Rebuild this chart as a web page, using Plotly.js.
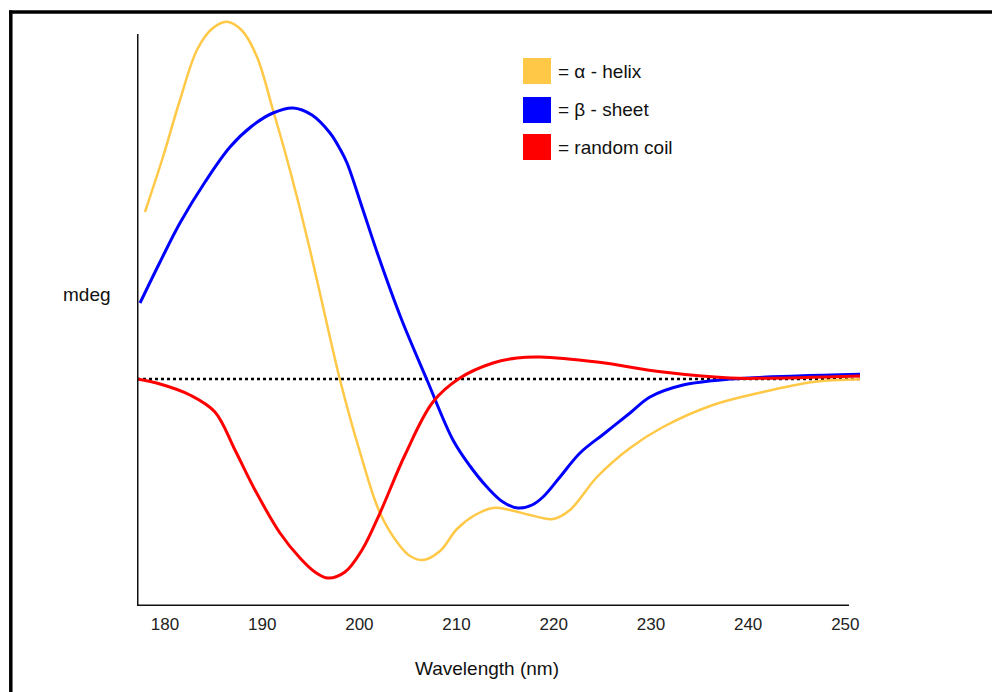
<!DOCTYPE html>
<html>
<head>
<meta charset="utf-8">
<script src="https://cdn.plot.ly/plotly-3.0.1.min.js"></script>
<style>
  html, body { margin: 0; padding: 0; background: #ffffff; }
  #chart { width: 992px; height: 692px; }
</style>
</head>
<body>
<div id="chart"></div>
<script>
// Wavelength (nm) and ellipticity (arbitrary mdeg units)
const helixNm = [177.94, 179.79, 181.54, 183.29, 184.84, 186.38, 187.92, 189.47, 191.11, 192.35, 193.58, 194.92, 196.15, 198.01, 200.06, 202.12, 204.18, 205.21, 206.55, 208.30, 210.04, 211.90, 213.75, 215.50, 217.56, 219.92, 221.67, 224.45, 227.85, 231.24, 236.38, 241.53, 246.67, 251.51];
const helixMdeg = [16.7, 22.2, 27.9, 32.9, 35.02, 35.73, 34.85, 32.2, 26.9, 22.7, 18.2, 12.9, 7.7, -0.1, -7.3, -13.4, -16.7, -17.7, -18.1, -17.2, -15.0, -13.6, -12.9, -13.1, -13.6, -14.0, -13.1, -9.8, -6.9, -4.8, -2.6, -1.3, -0.3, -0.03];

const sheetNm = [177.43, 179.49, 181.54, 184.12, 186.69, 188.95, 191.11, 193.17, 195.12, 196.98, 198.01, 198.73, 200.27, 201.92, 204.28, 206.96, 209.63, 211.38, 213.13, 214.78, 216.32, 217.76, 218.89, 220.64, 222.70, 225.27, 227.85, 229.90, 233.30, 238.13, 245.03, 251.51];
const sheetMdeg = [7.6, 11.7, 15.6, 19.7, 23.2, 25.3, 26.6, 27.1, 26.4, 24.6, 23.0, 21.6, 17.2, 12.4, 6.1, -0.1, -6.1, -8.7, -10.8, -12.3, -12.9, -12.6, -11.8, -9.8, -7.4, -5.4, -3.4, -1.8, -0.6, 0.0, 0.3, 0.47];

const coilNm = [177.12, 179.49, 182.57, 185.14, 187.20, 189.26, 191.83, 193.89, 195.43, 196.77, 198.52, 200.27, 202.12, 204.69, 207.57, 210.35, 213.75, 216.22, 218.58, 224.45, 231.24, 238.13, 241.53, 251.51];
const coilMdeg = [0.0, -0.5, -1.6, -3.3, -7.1, -11.1, -15.4, -17.9, -19.3, -19.9, -19.3, -17.1, -13.4, -7.6, -2.3, 0.1, 1.6, 2.1, 2.2, 1.7, 0.7, 0.1, 0.07, 0.3];

const tickVals = [180, 190, 200, 210, 220, 230, 240, 250];
const tickText = ["180", "190", "200", "210", "220", "230", "240", "250"];

const legendLabels = ["= \u03b1 - helix", "= \u03b2 - sheet", "= random coil"];
const seriesColors = ["#FFC846", "#0000FF", "#FF0000"];

const xRange = [177.12, 251.51];
const yRange = [-22.7, 36.4];
const axisTop = 34.5;
const axisRight = 250.38;

const FONT = "Liberation Sans, Arial, sans-serif";

const traces = [
  {x: helixNm, y: helixMdeg, mode: "lines", name: legendLabels[0],
   line: {color: seriesColors[0], width: 2.5, shape: "spline", smoothing: 1}},
  {x: sheetNm, y: sheetMdeg, mode: "lines", name: legendLabels[1],
   line: {color: seriesColors[1], width: 3, shape: "spline", smoothing: 1}},
  {x: coilNm, y: coilMdeg, mode: "lines", name: legendLabels[2],
   line: {color: seriesColors[2], width: 3, shape: "spline", smoothing: 1}}
];

// pixel helpers for paper coordinates (plot area: x 137..860, y 15..606)
const px = v => (v - 137) / 723;
const py = v => (606 - v) / 591;

const boxTops = [58, 97, 134];
const shapes = [
  // outer frame (top and left)
  {type: "line", xref: "paper", yref: "paper", x0: px(9), x1: px(995), y0: py(12), y1: py(12), line: {color: "#000", width: 3.5}},
  {type: "line", xref: "paper", yref: "paper", x0: px(10.8), x1: px(10.8), y0: py(10.5), y1: py(700), line: {color: "#000", width: 3.5}},
  // axes
  {type: "line", xref: "x", yref: "y", x0: xRange[0], x1: xRange[0], y0: yRange[0], y1: axisTop, line: {color: "#111", width: 3}},
  {type: "line", xref: "x", yref: "y", x0: xRange[0], x1: axisRight, y0: yRange[0], y1: yRange[0], line: {color: "#111", width: 3}},
  // zero baseline
  {type: "line", xref: "x", yref: "y", x0: xRange[0], x1: xRange[1], y0: 0, y1: 0, layer: "below", line: {color: "#000", width: 2.5, dash: "dot"}}
];
boxTops.forEach((t, i) => {
  shapes.push({type: "rect", xref: "paper", yref: "paper", x0: px(523), x1: px(551), y0: py(t), y1: py(t + 26),
    line: {width: 0}, fillcolor: seriesColors[i]});
});

const annotations = [
  {xref: "paper", yref: "paper", x: px(87), y: py(294), text: "mdeg", showarrow: false,
   xanchor: "center", yanchor: "middle", font: {family: FONT, size: 19, color: "#111"}},
  {xref: "paper", yref: "paper", x: px(487), y: py(668), text: "Wavelength (nm)", showarrow: false,
   xanchor: "center", yanchor: "middle", font: {family: FONT, size: 19, color: "#111"}}
];
boxTops.forEach((t, i) => {
  annotations.push({xref: "paper", yref: "paper", x: px(556), y: py(t + 13), text: legendLabels[i], showarrow: false,
    xanchor: "left", yanchor: "middle", font: {family: FONT, size: 19, color: "#111"}});
});

const layout = {
  width: 992, height: 692,
  margin: {l: 137, r: 132, t: 15, b: 86, pad: 0},
  paper_bgcolor: "#ffffff", plot_bgcolor: "#ffffff",
  showlegend: false,
  xaxis: {range: xRange, tickmode: "array", tickvals: tickVals, ticktext: tickText,
    showgrid: false, zeroline: false, showline: false, ticks: "",
    tickfont: {family: FONT, size: 17, color: "#222"}, ticklabelstandoff: 6, fixedrange: true},
  yaxis: {range: yRange, showgrid: false, zeroline: false, showline: false, showticklabels: false, ticks: "", fixedrange: true},
  shapes: shapes,
  annotations: annotations
};

Plotly.newPlot("chart", traces, layout, {displayModeBar: false, staticPlot: true});
</script>
</body>
</html>
